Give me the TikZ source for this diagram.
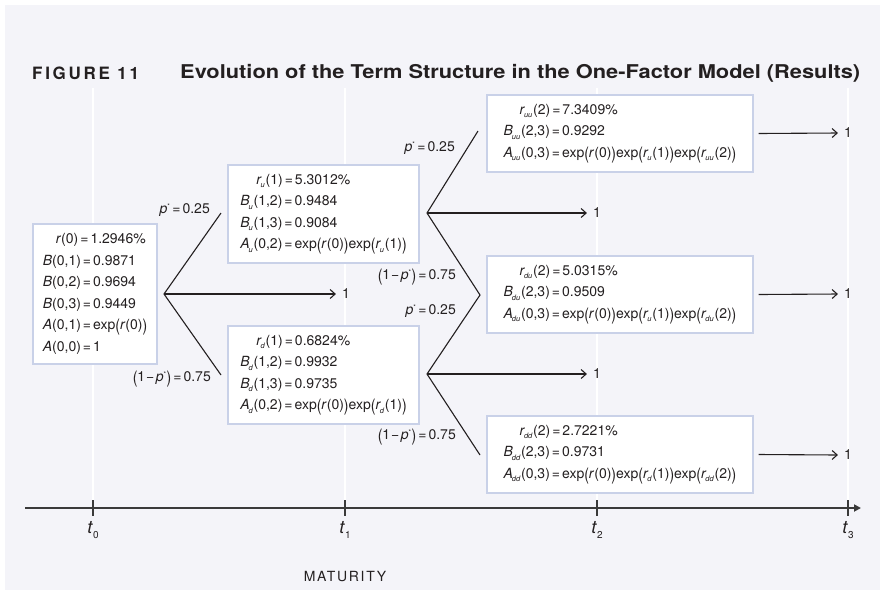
\documentclass[tikz,border=0pt]{standalone}
\usepackage{graphicx}
\usepackage{fontspec}
\setmainfont{TeX Gyre Heros}
\newfontfamily\figfont[LetterSpace=16]{TeX Gyre Heros}
\newfontfamily\matfont[LetterSpace=12]{TeX Gyre Heros}
\usetikzlibrary{arrows.meta}
\definecolor{bg}{HTML}{F4F4F9}
\definecolor{boxline}{HTML}{C9D1E8}
\definecolor{ink}{HTML}{231F20}
\definecolor{axisc}{HTML}{3A3A3A}
\newcommand\vi[1]{\textit{#1}}
\newcommand\sbs[1]{\kern-1pt\raisebox{-0.45ex}{\fontsize{7.5}{7.5}\selectfont\itshape #1}\kern0.8pt}
\newcommand\eq{\hspace{2pt}=\hspace{2pt}}
\newcommand\BL{\raisebox{-0.12em}{\scalebox{1}[1.22]{(}}}
\newcommand\BR{\raisebox{-0.12em}{\scalebox{1}[1.22]{)}}}
\newcommand\pst{\vi{p}\textsuperscript{\fontsize{6.5}{6.5}\selectfont *}}
\begin{document}
\begin{tikzpicture}[x=1pt,y=-1pt,
  every node/.style={inner sep=0pt, text=ink},
  valbox/.style={draw=boxline, line width=1.1pt, fill=white, align=left,
    font=\fontsize{14}{21.5}\selectfont},
  branch/.style={draw=ink, line width=1.1pt},
  payoff/.style={draw=ink, line width=1.1pt, -{Straight Barb[length=5pt,width=9pt]}},
  plab/.style={font=\fontsize{14}{14}\selectfont},
  grid/.style={draw=white, line width=1.4pt}]
\useasboundingbox (0,0) rectangle (885,595);
\fill[white] (0,0) rectangle (885,595);
\fill[bg] (5,5) rectangle (880,590);
% grid lines
\foreach \gx in {93,345,597,848} \draw[grid] (\gx,88) -- (\gx,505);
% title
\node[anchor=west, font=\fontsize{17}{17}\selectfont\figfont\bfseries] (fig) at (32,73) {FIGURE 11};
\node[anchor=west, font=\fontsize{19}{19}\selectfont\bfseries] (title) at (180,73)
  {\resizebox{680pt}{\height}{Evolution of the Term Structure in the One-Factor Model (Results)}};
% boxes
\node[valbox, minimum width=124pt, minimum height=140pt] (b0) at (95,294) {%
\hspace*{13pt}\vi{r}(0)\eq 1.2946\%\\
\vi{B}(0,1)\eq 0.9871\\
\vi{B}(0,2)\eq 0.9694\\
\vi{B}(0,3)\eq 0.9449\\
\vi{A}(0,1)\eq exp\BL\vi{r}(0)\BR\\
\vi{A}(0,0)\eq 1};
\node[valbox, minimum width=191pt, minimum height=98pt] (bu) at (323.5,214) {%
\hspace*{16pt}\vi{r}\sbs{u}(1)\eq 5.3012\%\\
\vi{B}\sbs{u}(1,2)\eq 0.9484\\
\vi{B}\sbs{u}(1,3)\eq 0.9084\\
\vi{A}\sbs{u}(0,2)\eq exp\BL\vi{r}(0)\BR exp\BL\vi{r}\sbs{u}(1)\BR};
\node[valbox, minimum width=191pt, minimum height=98pt] (bd) at (323.5,375) {%
\hspace*{16pt}\vi{r}\sbs{d}(1)\eq 0.6824\%\\
\vi{B}\sbs{d}(1,2)\eq 0.9932\\
\vi{B}\sbs{d}(1,3)\eq 0.9735\\
\vi{A}\sbs{d}(0,2)\eq exp\BL\vi{r}(0)\BR exp\BL\vi{r}\sbs{d}(1)\BR};
\node[valbox, minimum width=266pt, minimum height=77pt] (buu) at (620,133.5) {%
\hspace*{16pt}\vi{r}\sbs{uu}(2)\eq 7.3409\%\\
\vi{B}\sbs{uu}(2,3)\eq 0.9292\\
\vi{A}\sbs{uu}(0,3)\eq exp\BL\vi{r}(0)\BR exp\BL\vi{r}\sbs{u}(1)\BR exp\BL\vi{r}\sbs{uu}(2)\BR};
\node[valbox, minimum width=266pt, minimum height=77pt] (bdu) at (620,294.5) {%
\hspace*{16pt}\vi{r}\sbs{du}(2)\eq 5.0315\%\\
\vi{B}\sbs{du}(2,3)\eq 0.9509\\
\vi{A}\sbs{du}(0,3)\eq exp\BL\vi{r}(0)\BR exp\BL\vi{r}\sbs{u}(1)\BR exp\BL\vi{r}\sbs{du}(2)\BR};
\node[valbox, minimum width=266pt, minimum height=77pt] (bdd) at (620,454.5) {%
\hspace*{16pt}\vi{r}\sbs{dd}(2)\eq 2.7221\%\\
\vi{B}\sbs{dd}(2,3)\eq 0.9731\\
\vi{A}\sbs{dd}(0,3)\eq exp\BL\vi{r}(0)\BR exp\BL\vi{r}\sbs{d}(1)\BR exp\BL\vi{r}\sbs{dd}(2)\BR};
% tree coordinates
\coordinate (v0) at (164,294);
\coordinate (e0u) at (221,213);
\coordinate (e0d) at (221,375);
\coordinate (v1u) at (427,213);
\coordinate (v1d) at (427,374);
\coordinate (e1uu) at (478,131);
\coordinate (e1m) at (480,295);
\coordinate (e1dd) at (480,455);
\node[plab] (one0) at (346,294) {1};
\node[plab] (one1u) at (597,213) {1};
\node[plab] (one1d) at (597,374) {1};
\node[plab] (one2a) at (848,133) {1};
\node[plab] (one2b) at (848,294) {1};
\node[plab] (one2c) at (848,455) {1};
\draw[branch] (e0u) -- (v0) -- (e0d);
\draw[payoff] (v0) -- ([xshift=-6pt]one0.west);
\draw[branch] (e1uu) -- (v1u) -- (e1m) -- (v1d) -- (e1dd);
\draw[payoff] (v1u) -- ([xshift=-6pt]one1u.west);
\draw[payoff] (v1d) -- ([xshift=-6pt]one1d.west);
\draw[payoff] ([xshift=5pt]buu.east) -- ([xshift=-6pt]one2a.west);
\draw[payoff] ([xshift=5pt]bdu.east) -- ([xshift=-6pt]one2b.west);
\draw[payoff] ([xshift=5pt]bdd.east) -- ([xshift=-6pt]one2c.west);
% probability labels
\node[plab, anchor=east] (pa) at (210,210) {\pst\eq 0.25};
\node[plab, anchor=east] (pb) at (211,379) {\BL 1\kern1pt−\kern1.5pt\pst\BR\eq 0.75};
\node[plab, anchor=east] (pc) at (455,148) {\pst\eq 0.25};
\node[plab, anchor=east] (pd) at (456,277) {\BL 1\kern1pt−\kern1.5pt\pst\BR\eq 0.75};
\node[plab, anchor=east] (pe) at (456,311) {\pst\eq 0.25};
\node[plab, anchor=east] (pf) at (456,437) {\BL 1\kern1pt−\kern1.5pt\pst\BR\eq 0.75};
% axis
\coordinate (ax0) at (25,508);
\coordinate (ax1) at (861,508);
\draw[axisc, line width=1.8pt, -{Triangle[length=7pt,width=7pt]}] (ax0) -- (ax1);
\foreach \tx/\tl in {93/0,345/1,597/2,848/3} {
  \draw[axisc, line width=1.1pt] (\tx,500) -- (\tx,516);
  \node[font=\fontsize{18}{18}\selectfont] (t\tl) at (\tx,530) {\vi{t}\raisebox{-0.45ex}{\fontsize{10}{10}\selectfont\tl}};
}
\node[font=\fontsize{14}{14}\selectfont\matfont] (mat) at (345,577) {MATURITY};
\end{tikzpicture}
\end{document}
